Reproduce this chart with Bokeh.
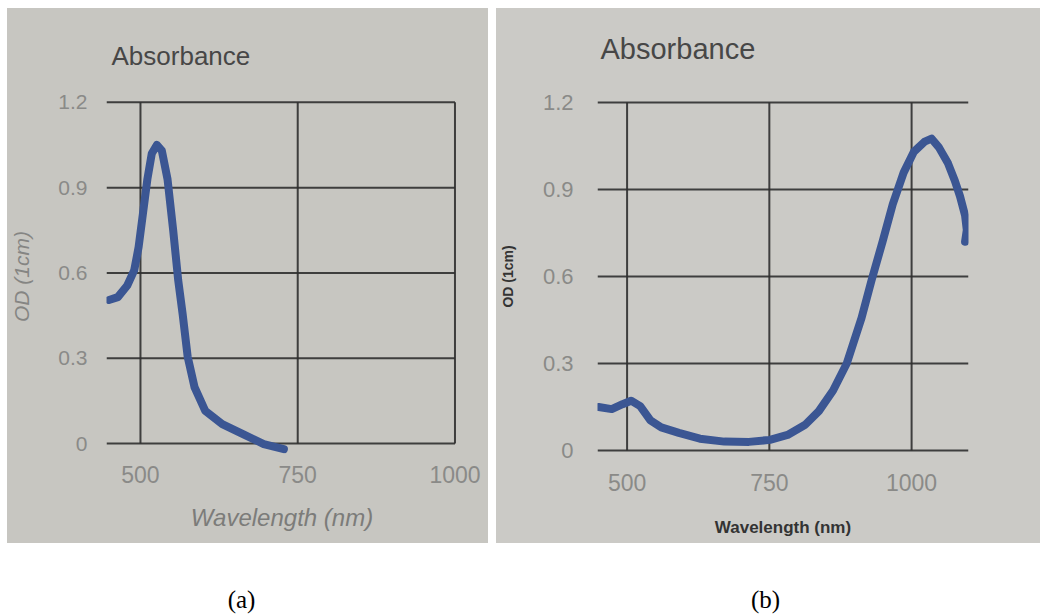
from bokeh.plotting import figure
from bokeh.layouts import column, row, Spacer
from bokeh.models import FixedTicker, Label
from bokeh.embed import file_html
from bokeh.resources import INLINE

# ---- data ----
wl_a = [450, 464, 479, 490, 497, 504, 511, 518, 526, 534, 543, 552, 560, 567,
        575, 586, 603, 630, 663, 696, 728]
od_a = [0.505, 0.515, 0.556, 0.609, 0.69, 0.81, 0.93, 1.02, 1.05, 1.03, 0.93,
        0.75, 0.574, 0.456, 0.306, 0.198, 0.115, 0.068, 0.033, -0.002, -0.02]

wl_b = [450, 473, 492, 507, 523, 541, 560, 591, 628, 671, 714, 751, 782, 813,
        837, 862, 886, 912, 930, 949, 967, 986, 1004, 1023, 1035, 1048, 1064,
        1076, 1085, 1094, 1097, 1094]
od_b = [0.15, 0.143, 0.16, 0.172, 0.153, 0.104, 0.08, 0.061, 0.041, 0.031,
        0.03, 0.037, 0.054, 0.089, 0.136, 0.207, 0.30, 0.457, 0.59, 0.72,
        0.85, 0.958, 1.03, 1.065, 1.075, 1.045, 0.99, 0.93, 0.877, 0.81, 0.76,
        0.72]

x_ticks = [500, 750, 1000]
y_ticks = [0, 0.3, 0.6, 0.9, 1.2]
y_tick_labels = ["0", "0.3", "0.6", "0.9", "1.2"]

title_text = "Absorbance"
x_label = "Wavelength (nm)"
y_label = "OD (1cm)"
captions = ["(a)", "(b)"]

CURVE = "#3b5693"
GRID = "#2f2f2f"
TICK = "#8a8a88"
SANS = "Liberation Sans"
TITLE_H = 70


def strip(width, height, bg):
    s = figure(width=width, height=height, x_range=(0, width),
               y_range=(0, height), output_backend="svg", toolbar_location=None,
               min_border=0, min_border_left=0, min_border_right=0,
               min_border_top=0, min_border_bottom=0, frame_align=False)
    s.axis.visible = False
    s.grid.visible = False
    s.outline_line_color = None
    s.background_fill_color = bg
    s.border_fill_color = bg
    return s


def title_strip(width, bg, tx, ty, size):
    s = strip(width, TITLE_H, bg)
    s.add_layout(Label(x=tx, y=ty, text=title_text, text_align="left",
                       text_baseline="alphabetic", text_font=SANS,
                       text_font_size=size, text_color="#474747"))
    return s


def make_panel(wl, od, width, height, xr, yr, borders, bg, hgrid_end,
               tick_x_size, tick_y_size,
               xl_style, xl_size, xl_color, yl_style, yl_size, yl_color,
               x_standoffs, y_standoffs):
    p = figure(width=width, height=height, x_range=xr, y_range=yr,
               output_backend="svg", toolbar_location=None, frame_align=False,
               min_border_left=borders[0], min_border_right=borders[1],
               min_border_top=borders[2], min_border_bottom=borders[3])
    p.background_fill_color = bg
    p.border_fill_color = bg
    p.outline_line_color = None
    p.grid.visible = False

    p.xaxis.ticker = FixedTicker(ticks=x_ticks)
    p.yaxis.ticker = FixedTicker(ticks=y_ticks)
    p.yaxis.major_label_overrides = dict(zip(y_ticks, y_tick_labels))
    for ax in (p.xaxis, p.yaxis):
        ax.axis_line_color = None
        ax.major_tick_line_color = None
        ax.minor_tick_line_color = None
        ax.major_label_text_font = SANS
        ax.major_label_text_color = TICK
        ax.axis_label_text_font = SANS
    p.xaxis.major_label_text_font_size = tick_x_size
    p.yaxis.major_label_text_font_size = tick_y_size
    p.yaxis.major_label_orientation = "horizontal"

    p.xaxis.axis_label = x_label
    p.xaxis.axis_label_text_font_style = xl_style
    p.xaxis.axis_label_text_font_size = xl_size
    p.xaxis.axis_label_text_color = xl_color
    p.xaxis.major_label_standoff = x_standoffs[0]
    p.xaxis.axis_label_standoff = x_standoffs[1]

    p.yaxis.axis_label = y_label
    p.yaxis.axis_label_text_font_style = yl_style
    p.yaxis.axis_label_text_font_size = yl_size
    p.yaxis.axis_label_text_color = yl_color
    p.yaxis.major_label_standoff = y_standoffs[0]
    p.yaxis.axis_label_standoff = y_standoffs[1]

    # grid lines bounded like the original: verticals from 0 to 1.2,
    # horizontals from the left edge to the given end
    nx, ny = len(x_ticks), len(y_ticks)
    p.segment(x0=x_ticks, y0=[y_ticks[0]] * nx, x1=x_ticks, y1=[y_ticks[-1]] * nx,
              line_color=GRID, line_width=2, line_alpha=0.9)
    p.segment(x0=[xr[0]] * ny, y0=y_ticks, x1=[hgrid_end] * ny, y1=y_ticks,
              line_color=GRID, line_width=2, line_alpha=0.9)

    p.line(wl, od, line_color=CURVE, line_width=8, line_join="round",
           line_cap="round")
    return p


BG_A = "#c7c6c1"
BG_B = "#cbcac6"

ta = title_strip(481, BG_A, 104, 23, "26px")
pa = make_panel(wl_a, od_a, 481, 535 - TITLE_H, (446, 1004), (-0.035, 1.21),
                (98, 31, 21, 90), BG_A, x_ticks[-1],
                "23px", "21px",
                "italic", "24px", "#7c7c7a", "italic", "21px", "#858583",
                (6, 18), (13, 22))

tb = title_strip(544, BG_B, 104, 30, "29px")
pb = make_panel(wl_b, od_b, 544, 535 - TITLE_H, (448, 1100), (-0.01, 1.21),
                (101, 72, 21, 90), BG_B, 1100,
                "23px", "22px",
                "bold", "17px", "#333333", "bold", "14px", "#333333",
                (14, 24), (18, 24))

cap = strip(1046, 72, "white")
for cx, txt in zip([241, 765], captions):
    cap.add_layout(Label(x=cx, y=16, text=txt, text_align="center",
                         text_baseline="middle", text_font="Liberation Serif",
                         text_font_size="25px", text_color="#000000"))

col_a = column(ta, pa, styles={"background-color": BG_A})
col_b = column(tb, pb, styles={"background-color": BG_B})

layout = column(Spacer(height=8),
                row(Spacer(width=7), col_a, Spacer(width=8), col_b),
                cap)

open("out.html", "w").write(file_html(layout, INLINE))
